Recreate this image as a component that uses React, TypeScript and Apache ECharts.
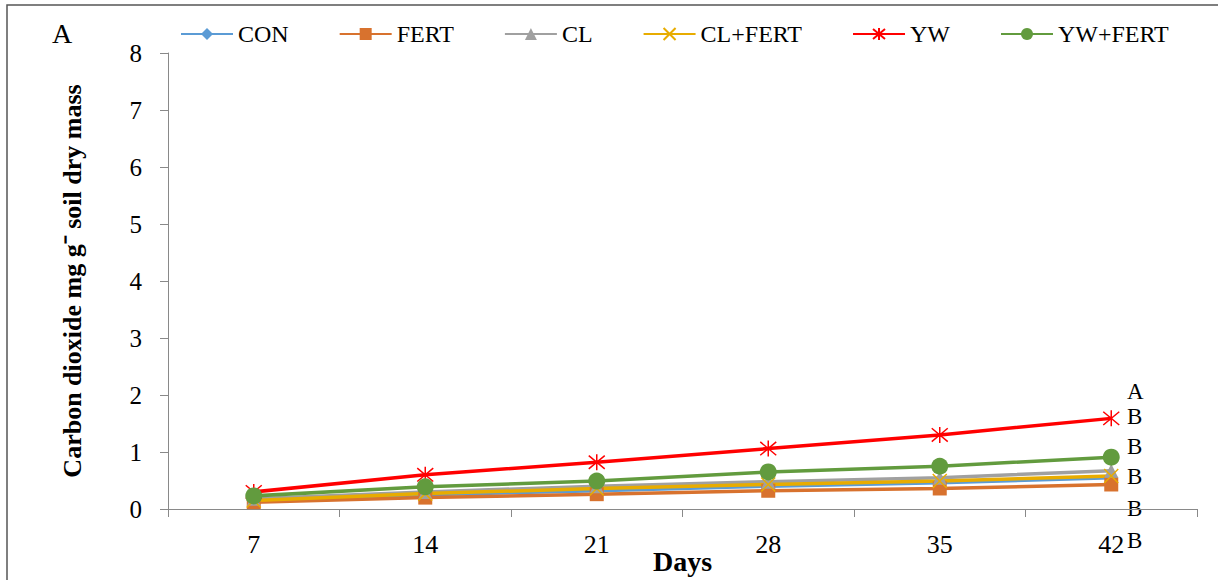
import React, { useEffect, useRef } from "react";
import * as echarts from "echarts";

// Sampling days (x categories)
const days = ["7", "14", "21", "28", "35", "42"];

// Cumulative CO2 (mg g-1 soil dry mass) per treatment
const conValues = [0.15, 0.25, 0.32, 0.4, 0.46, 0.55];
const fertValues = [0.12, 0.2, 0.26, 0.32, 0.36, 0.43];
const clValues = [0.18, 0.3, 0.4, 0.48, 0.55, 0.67];
const clFertValues = [0.15, 0.27, 0.36, 0.43, 0.49, 0.58];
const ywValues = [0.3, 0.6, 0.82, 1.06, 1.3, 1.59];
const ywFertValues = [0.23, 0.39, 0.49, 0.65, 0.75, 0.91];

// Significance letters listed beside the last sampling day
const letters = ["A", "B", "B", "B", "B", "B"];

const SERIF = "Times New Roman";

// Thin cross made of two diagonal strokes
const crossSymbol = "path://M0,0L10,10M10,0L0,10";
// Six-armed asterisk: two diagonals plus a vertical stroke
const starSymbol = "path://M0,0L10,10M10,0L0,10M5,-1L5,11";

export default function App() {
  const ref = useRef<HTMLDivElement>(null);

  useEffect(() => {
    if (!ref.current) return;
    const chart = echarts.init(ref.current, undefined, { renderer: "svg" });

    const mk = (
      name: string,
      data: number[],
      color: string,
      symbol: string,
      symbolSize: number,
      stroked = false
    ) => ({
      name,
      type: "line",
      data,
      symbol,
      symbolSize,
      showSymbol: true,
      lineStyle: { color, width: 3.5 },
      itemStyle: stroked
        ? { color: "rgba(0,0,0,0)", borderColor: color, borderWidth: 1.5 }
        : { color, borderWidth: 0 },
      emphasis: { disabled: true },
    });

    const letterYs = [391, 416, 446, 476, 508, 540];

    chart.setOption({
      animation: false,
      backgroundColor: "#ffffff",
      textStyle: { fontFamily: SERIF },
      grid: {
        left: 168,
        right: 21,
        top: 53,
        bottom: 71,
        containLabel: false,
        outerBoundsMode: "none",
      },
      legend: {
        left: 175,
        top: 17,
        itemWidth: 52,
        itemHeight: 15,
        itemGap: 50,
        textStyle: { fontFamily: SERIF, fontSize: 24, color: "#000" },
        data: ["CON", "FERT", "CL", "CL+FERT", "YW", "YW+FERT"],
      },
      xAxis: {
        type: "category",
        data: days,
        boundaryGap: true,
        name: "Days",
        nameLocation: "middle",
        nameGap: 38,
        nameMoveOverlap: false,
        nameTextStyle: { fontFamily: SERIF, fontSize: 28, fontWeight: "bold", color: "#000" },
        axisLine: { lineStyle: { color: "#898989", width: 1 } },
        axisTick: { show: true, length: 8, interval: 0, lineStyle: { color: "#898989" } },
        axisLabel: { fontFamily: SERIF, fontSize: 26, color: "#000", margin: 22 },
      },
      yAxis: {
        type: "value",
        min: 0,
        max: 8,
        interval: 1,
        name: "Carbon dioxide mg g\u207B soil dry mass",
        nameLocation: "middle",
        nameGap: 83,
        nameMoveOverlap: false,
        nameTextStyle: { fontFamily: SERIF, fontSize: 26, fontWeight: "bold", color: "#000" },
        axisLine: { show: true, lineStyle: { color: "#898989", width: 1 } },
        axisTick: { show: true, length: 8, lineStyle: { color: "#898989" } },
        splitLine: { show: false },
        axisLabel: { fontFamily: SERIF, fontSize: 25, color: "#000", margin: 26 },
      },
      series: [
        mk("CON", conValues, "#5B9BD5", "diamond", 14),
        mk("FERT", fertValues, "#D8722E", "rect", 14),
        mk("CL", clValues, "#A0A0A0", "triangle", 14),
        mk("CL+FERT", clFertValues, "#E8AC00", crossSymbol, 14, true),
        mk("YW", ywValues, "#FF0000", starSymbol, 16, true),
        mk("YW+FERT", ywFertValues, "#629B3E", "circle", 17),
      ],
      graphic: [
        {
          type: "rect",
          silent: true,
          shape: { x: 7, y: 5, width: 1300, height: 700 },
          style: { fill: "none", stroke: "#555", lineWidth: 1.5 },
        },
        {
          type: "text",
          x: 52,
          y: 19,
          style: { text: "A", font: `28px ${SERIF}`, fill: "#000" },
        },
        ...letters.map((t, i) => ({
          type: "text",
          x: 1127,
          y: letterYs[i],
          style: {
            text: t,
            font: `23px ${SERIF}`,
            fill: "#000",
            verticalAlign: "middle",
            align: "left",
          },
        })),
      ],
    });

    return () => chart.dispose();
  }, []);

  return (
    <div
      ref={ref}
      style={{ position: "absolute", left: 0, top: 0, width: 1218, height: 580 }}
    />
  );
}
